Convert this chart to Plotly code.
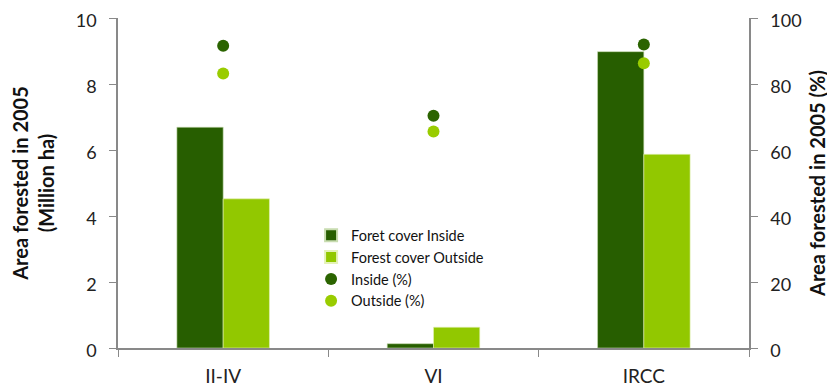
import plotly.graph_objects as go

categories = ["II-IV", "VI", "IRCC"]
cover_inside = [6.69, 0.13, 8.98]
cover_outside = [4.52, 0.63, 5.87]
pct_inside = [91.6, 70.4, 92.0]
pct_outside = [83.2, 65.6, 86.3]

dark = "#275E00"
light = "#92C800"
dot_dark = "#2B6400"
dot_light = "#99CC00"
axis_col = "#898989"
font_fam = "Lato, 'Open Sans', sans-serif"

fig = go.Figure()
fig.add_trace(go.Bar(x=categories, y=cover_inside, name="Foret cover Inside",
                     marker=dict(color=dark, line=dict(color="#c8dcb0", width=0.6))))
fig.add_trace(go.Bar(x=categories, y=cover_outside, name="Forest cover Outside",
                     marker=dict(color=light, line=dict(color="#e4f2b8", width=0.6))))
fig.add_trace(go.Scatter(x=categories, y=pct_inside, name="Inside (%)", mode="markers",
                         yaxis="y2", marker=dict(color=dot_dark, size=12)))
fig.add_trace(go.Scatter(x=categories, y=pct_outside, name="Outside (%)", mode="markers",
                         yaxis="y2", marker=dict(color=dot_light, size=12)))

# page body adds an 8px offset; figure sized to fill the remaining window
fig.update_layout(
    width=827, height=382,
    margin=dict(l=110, r=86, t=10, b=42, autoexpand=False),
    paper_bgcolor="white", plot_bgcolor="white",
    barmode="group", bargap=0.56, bargroupgap=0,
    font=dict(family=font_fam, color="#222"),
    showlegend=True,
    legend=dict(x=0.306, y=0.39, xanchor="left", yanchor="top",
                font=dict(size=14.5, color="#111"), bgcolor="rgba(0,0,0,0)",
                tracegroupgap=0, itemsizing="constant"),
    xaxis=dict(showline=True, linecolor=axis_col, linewidth=1.5, automargin=False,
               ticks="outside", tickson="boundaries", ticklen=7, tickcolor=axis_col,
               ticklabelstandoff=10,
               tickfont=dict(size=19, color="#222"), showgrid=False, zeroline=False),
    yaxis=dict(range=[0, 10], dtick=2, showline=True, linecolor=axis_col, linewidth=1.5,
               automargin=False, ticklabeloverflow="allow", ticklabelshift=3,
               ticks="outside", ticklen=7, tickcolor=axis_col, showgrid=False, zeroline=False,
               tickfont=dict(size=18, color="#222"), ticklabelstandoff=9,
               title=dict(text="<b>Area forested in 2005<br>(Million ha)</b>",
                          font=dict(size=20, color="#111"), standoff=17)),
    yaxis2=dict(range=[0, 100], dtick=20, overlaying="y", side="right",
                showline=True, linecolor=axis_col, linewidth=1.5, automargin=False,
                ticklabeloverflow="allow", ticklabelshift=3,
                ticks="outside", ticklen=7, tickcolor=axis_col, showgrid=False, zeroline=False,
                tickfont=dict(size=18, color="#222"), ticklabelstandoff=9,
                title=dict(text="<b>Area forested in 2005 (%)</b>",
                           font=dict(size=20, color="#111"), standoff=10)),
)

fig.write_html("out.html")
